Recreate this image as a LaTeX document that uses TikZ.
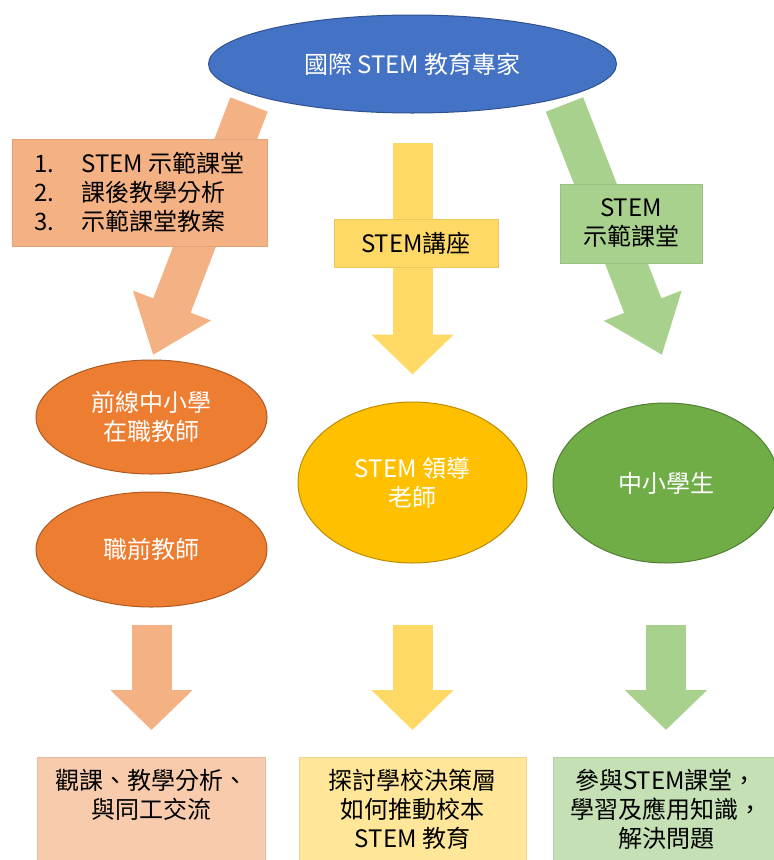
\documentclass[tikz,border=0pt]{standalone}
\usepackage{fontspec}
\setmainfont{Noto Sans CJK TC}
\usepackage{tikz}
\usetikzlibrary{shapes.geometric,arrows.meta,backgrounds}

\definecolor{blueA}{HTML}{4472C4}
\definecolor{blueB}{HTML}{2F528F}
\definecolor{orangeA}{HTML}{ED7D31}
\definecolor{orangeB}{HTML}{AE5A21}
\definecolor{goldA}{HTML}{FFC000}
\definecolor{goldB}{HTML}{BC8C00}
\definecolor{greenA}{HTML}{70AD47}
\definecolor{greenB}{HTML}{507E32}
\definecolor{peach}{HTML}{F4B183}
\definecolor{sand}{HTML}{FFD966}
\definecolor{sage}{HTML}{A9D18E}
\definecolor{peachL}{HTML}{F8CBAD}
\definecolor{sandL}{HTML}{FFE699}
\definecolor{sageL}{HTML}{C5E0B4}

\begin{document}
\begin{tikzpicture}[x=1pt,y=-1pt]
      \tikzstyle{every node}=[font=\fontsize{24}{29}\selectfont, inner sep=0pt]
      \tikzstyle{bubble}=[ellipse, line width=1pt, text=white, align=center]
      \tikzstyle{board}=[rectangle, line width=0.6pt, align=center]
      \tikzstyle{outcome}=[board, anchor=north]
      \tikzstyle{fatarrow}=[line width=40pt, -{Triangle[width=80pt,length=40pt]}]
      \useasboundingbox (0,0) rectangle (774,860);
      \clip (0,0) rectangle (774,860);

      % ellipses
      \node[bubble, fill=blueA, draw=blueB, minimum width=408pt, minimum height=98pt] (expert) at (412.5,64) {國際 STEM 教育專家};
      \node[bubble, fill=orangeA, draw=orangeB, minimum width=231pt, minimum height=114pt] (inservice) at (151.5,417) {前線中小學\\在職教師};
      \node[bubble, fill=orangeA, draw=orangeB, minimum width=231pt, minimum height=115pt] (preservice) at (151.5,549.5) {職前教師};
      \node[bubble, fill=goldA, draw=goldB, minimum width=229pt, minimum height=161pt] (leader) at (412.5,482.5) {STEM 領導\\老師};
      \node[bubble, fill=greenA, draw=greenB, minimum width=226pt, minimum height=160pt] (student) at (666,483) {中小學生};

      % labels on the arrows
      \node[board, fill=peach, draw=peach!92!black, minimum width=255pt, minimum height=107pt, align=left] (demo) at (139.5,192.5)
        {\makebox[47pt][l]{1.}STEM 示範課堂\\\makebox[47pt][l]{2.}課後教學分析\\\makebox[47pt][l]{3.}示範課堂教案};
      \node[board, fill=sand, draw=sand!92!black, minimum width=164pt, minimum height=48pt] (lecture) at (416,243) {STEM講座};
      \node[board, fill=sage, draw=sage!92!black, minimum width=142pt, minimum height=79pt] (lesson) at (631,223.5) {STEM\\示範課堂};

      % outcomes
      \node[outcome, fill=peachL, draw=peachL!92!black, minimum width=228pt, text height=61pt, text depth=48pt] (observe) at (151.5,757) {觀課、教學分析、\\與同工交流};
      \node[outcome, fill=sandL, draw=sandL!92!black, minimum width=227pt, text height=90pt, text depth=19pt] (policy) at (412.5,757) {探討學校決策層\\如何推動校本\\STEM 教育};
      \node[outcome, fill=sageL, draw=sageL!92!black, minimum width=226pt, text height=90pt, text depth=19pt] (apply) at (666,757) {參與STEM課堂，\\學習及應用知識，\\解決問題};

      \coordinate (l-top) at (249,104.5);
      \coordinate (l-tip) at (153,355);
      \coordinate (r-top) at (564.5,104.5);
      \coordinate (r-tip) at (662,355);

      \begin{scope}[on background layer]
        \draw[fatarrow, draw=peach, -{Triangle[width=80pt,length=53pt]}] (l-top) -- (l-tip);
        \draw[fatarrow, draw=sand] ([yshift=-29pt]expert.south) -- ([yshift=27pt]leader.north);
        \draw[fatarrow, draw=sage, -{Triangle[width=80pt,length=53pt]}] (r-top) -- (r-tip);
        \draw[fatarrow, draw=peach] ([yshift=-17pt]preservice.south) -- ([yshift=27pt]observe.north);
        \draw[fatarrow, draw=sand] ([yshift=-61pt]leader.south) -- ([yshift=27pt]policy.north);
        \draw[fatarrow, draw=sage] ([yshift=-61pt]student.south) -- ([yshift=27pt]apply.north);
      \end{scope}
\end{tikzpicture}
\end{document}
